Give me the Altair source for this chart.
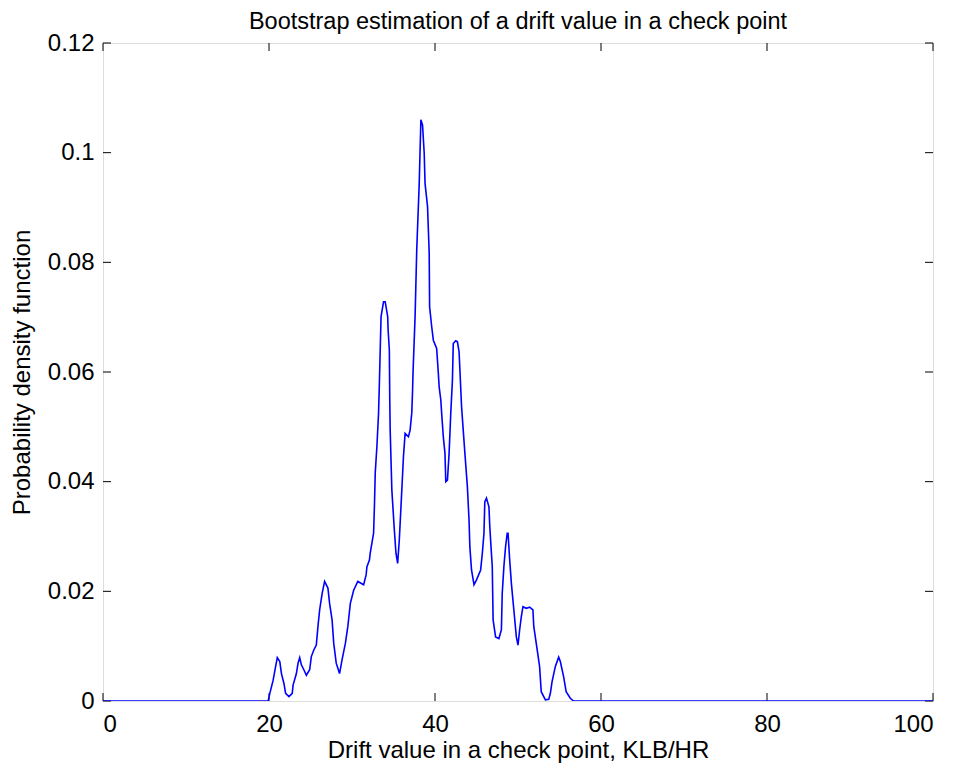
import altair as alt
import pandas as pd

drift = [0, 19.9, 20.1, 20.5, 20.8, 21.0, 21.3, 21.5, 21.8, 22.0,
         22.4, 22.8, 22.9, 23.3, 23.5, 23.7, 23.9, 24.2, 24.5, 24.9,
         25.1, 25.4, 25.7, 25.9, 26.1, 26.4, 26.7, 27.1, 27.3, 27.6,
         27.8, 28.1, 28.5, 28.8, 29.2, 29.5, 29.8, 30.2, 30.7, 31.4,
         31.7, 31.8, 32.1, 32.2, 32.6, 32.7, 32.8, 33.0, 33.2, 33.3,
         33.5, 33.8, 34.0, 34.3, 34.35, 34.5, 34.55, 34.6, 34.8, 35.1,
         35.3, 35.5, 35.7, 35.9, 36.1, 36.2, 36.4, 36.8, 37.0, 37.2,
         37.3, 37.35, 37.6, 37.8, 38.1, 38.3, 38.5, 38.7, 38.8, 39.1,
         39.3, 39.35, 39.6, 39.8, 40.2, 40.4, 40.5, 40.7, 40.8, 41.0,
         41.2, 41.3, 41.5, 41.7, 41.9, 42.1, 42.2, 42.5, 42.7, 42.9,
         43.0, 43.2, 43.4, 43.6, 43.9, 44.1, 44.2, 44.4, 44.7, 45.0,
         45.5, 45.7, 45.9, 46.0, 46.2, 46.5, 46.6, 46.8, 46.9, 47.0,
         47.3, 47.7, 48.0, 48.1, 48.3, 48.5, 48.7, 48.8, 49.0, 49.2,
         49.5, 49.8, 50.0, 50.2, 50.4, 50.6, 51.0, 51.4, 51.8, 51.9,
         52.2, 52.6, 52.8, 53.3, 53.7, 53.9, 54.1, 54.5, 54.9, 55.1,
         55.5, 55.8, 56.3, 56.7, 100]

pdf = [0, 0, 0.0014, 0.0038, 0.0063, 0.0079, 0.0072, 0.0050, 0.0032, 0.0014,
       0.0008, 0.0014, 0.0029, 0.0050, 0.0069, 0.0079, 0.0066, 0.0057, 0.0047, 0.0057,
       0.0081, 0.0093, 0.0102, 0.0136, 0.0166, 0.0196, 0.0218, 0.0206, 0.0178, 0.0148,
       0.0105, 0.0069, 0.0050, 0.0075, 0.0105, 0.0136, 0.0178, 0.0202, 0.0218, 0.0212,
       0.0230, 0.0245, 0.0257, 0.0270, 0.0306, 0.0354, 0.0416, 0.0464, 0.0525, 0.0580,
       0.0701, 0.0728, 0.0728, 0.0701, 0.0677, 0.0640, 0.0549, 0.0494, 0.0385, 0.0312,
       0.0269, 0.0251, 0.0294, 0.0354, 0.0415, 0.0446, 0.0488, 0.0482, 0.0494, 0.0525,
       0.0567, 0.0598, 0.0701, 0.0823, 0.0944, 0.1060, 0.1050, 0.0999, 0.0944, 0.0902,
       0.0817, 0.0719, 0.0683, 0.0658, 0.0643, 0.0598, 0.0573, 0.0549, 0.0525, 0.0482,
       0.0452, 0.0400, 0.0403, 0.0452, 0.0525, 0.0585, 0.0652, 0.0657, 0.0655, 0.0637,
       0.0604, 0.0537, 0.0494, 0.0452, 0.0391, 0.0330, 0.0281, 0.0239, 0.0212, 0.0221,
       0.0239, 0.0269, 0.0306, 0.0363, 0.0370, 0.0354, 0.0318, 0.0269, 0.0245, 0.0148,
       0.0117, 0.0114, 0.0130, 0.0196, 0.0245, 0.0281, 0.0306, 0.0306, 0.0257, 0.0215,
       0.0166, 0.0117, 0.0102, 0.0130, 0.0154, 0.0172, 0.0169, 0.0171, 0.0166, 0.0136,
       0.0105, 0.0063, 0.0017, 0.0002, 0.0003, 0.0014, 0.0035, 0.0063, 0.0080, 0.0072,
       0.0044, 0.0017, 0.0005, 0, 0]

x_ticks = [0, 20, 40, 60, 80, 100]
y_ticks = [0, 0.02, 0.04, 0.06, 0.08, 0.1, 0.12]

W, H = 830, 658
FONT = "Liberation Sans"
LFS = 24
TFS = 24

df = pd.DataFrame({"x": drift, "y": pdf, "i": list(range(len(drift)))})
xt = pd.DataFrame({"t": x_ticks})
yt = pd.DataFrame({"t": y_ticks})

xscale = alt.Scale(domain=[0, 100], nice=False, zero=False)
yscale = alt.Scale(domain=[0, 0.12], nice=False)

line = alt.Chart(df).mark_line(color="#0000ff", strokeWidth=1.6, clip=True).encode(
    x=alt.X("x:Q", scale=xscale,
            axis=alt.Axis(values=x_ticks, title="Drift value in a check point, KLB/HR",
                          tickSize=0, domain=False, grid=False, labelPadding=11,
                          labelFontSize=LFS, titleFontSize=TFS, titleFontWeight="normal",
                          labelFont=FONT, titleFont=FONT, labelColor="black",
                          titleColor="black", titlePadding=2)),
    y=alt.Y("y:Q", scale=yscale,
            axis=alt.Axis(values=y_ticks, format="~g", title="Probability density function",
                          tickSize=0, domain=False, grid=False, labelPadding=9,
                          labelFontSize=LFS, titleFontSize=TFS, titleFontWeight="normal",
                          labelFont=FONT, titleFont=FONT, labelColor="black",
                          titleColor="black", titlePadding=13)),
    order="i:Q",
)

bt = alt.Chart(xt).mark_rule(color="black", strokeWidth=1).encode(
    x=alt.X("t:Q", scale=xscale), y=alt.value(H), y2=alt.value(H - 8))
tt = alt.Chart(xt).mark_rule(color="black", strokeWidth=1).encode(
    x=alt.X("t:Q", scale=xscale), y=alt.value(0), y2=alt.value(8))
lt = alt.Chart(yt).mark_rule(color="black", strokeWidth=1).encode(
    y=alt.Y("t:Q", scale=yscale), x=alt.value(0), x2=alt.value(8))
rt = alt.Chart(yt).mark_rule(color="black", strokeWidth=1).encode(
    y=alt.Y("t:Q", scale=yscale), x=alt.value(W), x2=alt.value(W - 8))

chart = alt.layer(bt, tt, lt, rt, line).properties(
    width=W, height=H,
    title=alt.TitleParams("Bootstrap estimation of a drift value in a check point",
                          font=FONT, fontSize=23.5, fontWeight="normal", color="black",
                          offset=-2),
    autosize=alt.AutoSizeParams(type="none"),
    padding={"left": 103, "top": 43, "right": 26, "bottom": 72},
).configure_view(stroke="black", strokeWidth=1.4).configure(background="white")

chart.save("out.html", embed_options={"renderer": "svg", "actions": False})
